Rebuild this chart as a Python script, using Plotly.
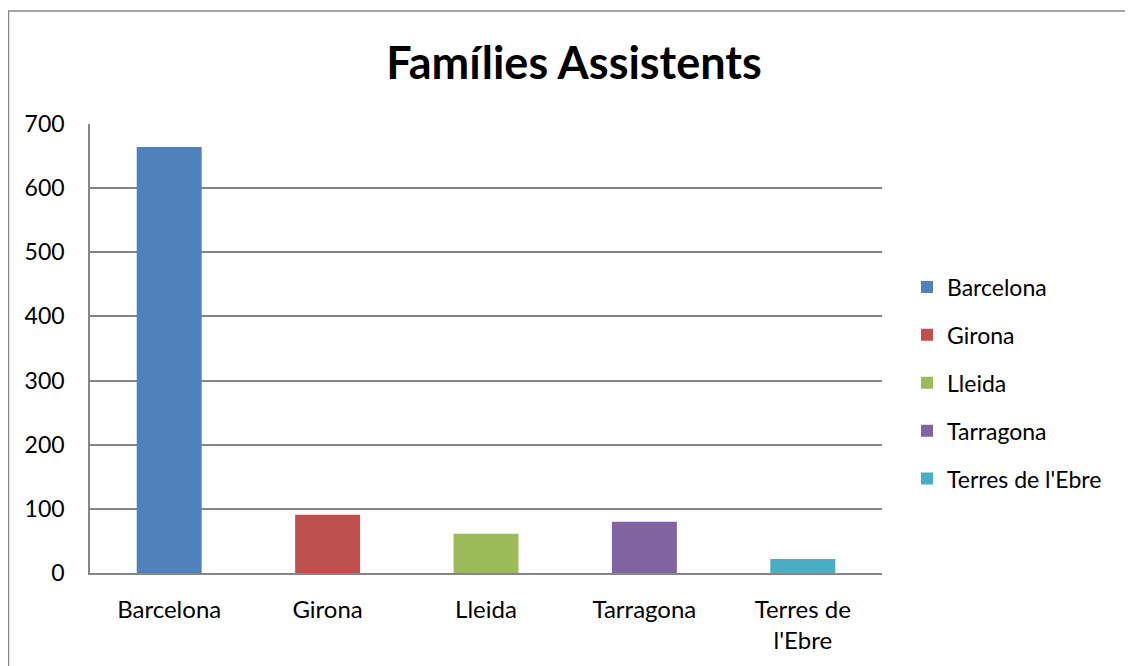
import plotly.graph_objects as go

categories = ["Barcelona", "Girona", "Lleida", "Tarragona", "Terres de l'Ebre"]
tick_labels = ["Barcelona", "Girona", "Lleida", "Tarragona", "Terres de<br>l'Ebre"]
values = [664, 91, 61, 80, 22]
colors = ["#4F81BD", "#C0504D", "#9BBB59", "#8064A2", "#4BACC6"]

FONT = "Lato, 'Open Sans', sans-serif"

# page body has ~8px margin, so the figure is laid out in shifted coordinates
OX, OY = 8, 8
W, H = 1133 - OX, 666 - OY
L, R, T, B = 90 - OX, 1133 - 882, 124 - OY, 666 - 573
PW = W - L - R
PH = H - T - B

fig = go.Figure()
for cat, val, col in zip(categories, values, colors):
    fig.add_trace(go.Bar(
        x=[cat], y=[val], name=cat, marker=dict(color=col, line=dict(width=0)),
        width=0.41, legendgroup=cat,
    ))

fig.update_layout(
    width=W, height=H,
    paper_bgcolor="white", plot_bgcolor="white",
    margin=dict(l=L, r=R, t=T, b=B),
    barmode="overlay",
    font=dict(family=FONT, size=22, color="#000000"),
    title=dict(text="<b>Famílies Assistents</b>", x=(574 - OX) / W, xref="container", xanchor="center",
               y=1 - (63 - OY) / H, yref="container", yanchor="middle",
               font=dict(family=FONT, size=45, color="#000000")),
    xaxis=dict(tickmode="array", tickvals=categories, ticktext=tick_labels,
               showline=True, linecolor="#868686", linewidth=1.5, ticks="", showgrid=False,
               tickfont=dict(size=24), ticklabelstandoff=14),
    yaxis=dict(range=[0, 700], dtick=100, showgrid=True, gridcolor="#868686", gridwidth=1.5,
               showline=True, linecolor="#868686", linewidth=1.5, ticks="",
               zeroline=False, tickfont=dict(size=23), ticklabelstandoff=19),
    legend=dict(x=(907 - OX - L) / PW, xanchor="left", y=(573 - 383) / PH, yanchor="middle",
                tracegroupgap=15, traceorder="grouped",
                font=dict(size=23), itemwidth=30),
    showlegend=True,
)

fig.add_shape(type="rect", xref="paper", yref="paper",
              x0=(-L + 0.5) / PW, x1=1.6, y0=-0.6, y1=(573 - 11) / PH,
              line=dict(color="#888888", width=1.5), fillcolor="rgba(0,0,0,0)", layer="below")

fig.write_html("out.html")
